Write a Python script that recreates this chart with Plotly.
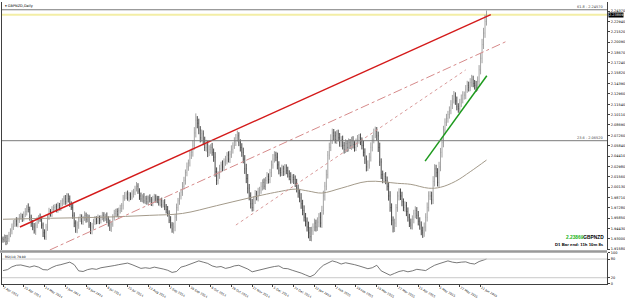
import plotly.graph_objects as go

# ---------------- data ----------------
date_labels = ["7 Apr 2014", "25 Apr 2014", "14 May 2014", "3 Jun 2014", "19 Jun 2014", "9 Jul 2014",
               "25 Jul 2014", "13 Aug 2014", "1 Sep 2014", "19 Sep 2014", "9 Oct 2014", "29 Oct 2014",
               "17 Nov 2014", "5 Dec 2014", "24 Dec 2014", "13 Jan 2015", "2 Feb 2015", "19 Feb 2015",
               "10 Mar 2015", "27 Mar 2015", "15 Apr 2015", "5 May 2015", "22 May 2015", "11 Jun 2015"]
bars_per_label = 14

first_open_pips = 19300
close_pips = [
    19288, 19315, 19262, 19302, 19355, 19409, 19462, 19516, 19542, 19502,
    19556, 19596, 19609, 19582, 19636, 19676, 19730, 19703, 19596,
    19516, 19462, 19409, 19489, 19556, 19596, 19569, 19489, 19382, 19329,
    19462, 19596, 19676, 19649, 19703, 19730, 19743, 19703, 19756,
    19730, 19783, 19823, 19850, 19810, 19890, 19850, 19783, 19730, 19623,
    19516, 19422, 19489, 19569, 19596, 19542, 19582, 19623, 19569, 19596,
    19489, 19409, 19462, 19542, 19569, 19542, 19582, 19556, 19596,
    19623, 19582, 19609, 19569, 19516, 19449, 19502, 19596, 19649, 19676,
    19636, 19690, 19716, 19756, 19863, 19890, 19917, 19863, 19903,
    19877, 19917, 19943, 19997, 20024, 19957, 19890, 19850, 19877, 19823,
    19850, 19810, 19863, 19837, 19796, 19837, 19877, 19850, 19837,
    19796, 19823, 19770, 19796, 19743, 19703, 19649, 19556, 19489, 19435,
    19462, 19596, 19730, 19823, 19890, 19943, 20024, 20104, 20211, 20291,
    20345, 20452, 20492, 20585, 20759, 20933, 20893, 20799, 20692,
    20746, 20652, 20559, 20598, 20492, 20532, 20559, 20492, 20425, 20224,
    20104, 20184, 20264, 20318, 20291, 20358, 20385, 20452, 20398,
    20465, 20532, 20585, 20639, 20692, 20719, 20625, 20559, 20492, 20398,
    20264, 20131, 19997, 19890, 19783, 19730, 19837, 19917, 19877, 19943,
    19970, 20024, 20077, 20024, 20104, 20157, 20117, 20211, 20318,
    20398, 20452, 20425, 20318, 20238, 20211, 20264, 20224, 20278, 20238,
    20198, 20157, 20117, 20144, 20117, 20064, 19997, 19930, 19863,
    19783, 19690, 19596, 19542, 19462, 19382, 19329, 19409, 19462, 19516,
    19462, 19529, 19596, 19516, 19690, 19890, 20024, 20184, 20452,
    20559, 20666, 20759, 20719, 20666, 20746, 20692, 20625, 20666, 20585,
    20532, 20612, 20559, 20625, 20585, 20652, 20598, 20559, 20625, 20666,
    20692, 20639, 20585, 20492, 20398, 20291, 20318, 20425, 20559,
    20666, 20746, 20786, 20719, 20559, 20358, 20184, 20131, 20157, 20104,
    20024, 19890, 19730, 19556, 19449, 19516, 19730, 19890, 19943,
    19890, 19810, 19730, 19756, 19676, 19596, 19516, 19489, 19569, 19649,
    19690, 19623, 19542, 19489, 19409, 19382, 19462, 19596, 19730, 19890,
    19890, 19837, 20091, 20264, 20211, 20077, 20291, 20492, 20625,
    20799, 20906, 20960, 21013, 21067, 21147, 21227, 21267, 21200, 21120,
    21093, 21173, 21227, 21280, 21280, 21361, 21414, 21388, 21454,
    21494, 21441, 21414, 21388, 21468, 21628, 21788, 21976, 22136, 22297, 22387,
]
up_wick_pips = [
    30, 45, 38, 52, 40, 35, 48, 42, 30, 55,
    38, 44, 50, 36, 41, 47, 33, 58, 40,
    36, 42, 55, 38, 46, 30, 52, 40, 35, 48,
    44, 37, 51, 33, 45, 39, 34, 42, 48,
    38, 50, 35, 44, 53, 40, 36, 47, 32, 58,
    42, 39, 50, 35, 46, 41, 33, 55, 38, 44,
    36, 42, 57, 34, 45, 40, 52, 38, 31,
    47, 43, 36, 54, 40, 48, 35, 42, 50, 37,
    44, 39, 53, 36, 41, 55, 33, 48, 40,
    37, 51, 45, 34, 58, 42, 39, 47, 36, 52,
    40, 45, 33, 49, 38, 56, 42, 35, 41,
    53, 37, 44, 39, 50, 36, 48, 43, 55, 40,
    62, 48, 55, 40, 52, 45, 58, 50, 44, 60,
    47, 66, 50, 72, 80, 95, 58, 62, 54,
    60, 48, 55, 66, 50, 58, 45, 62, 52, 70,
    60, 48, 56, 44, 62, 50, 58, 42, 54,
    48, 56, 45, 60, 52, 72, 50, 46, 58, 64,
    55, 70, 62, 58, 50, 66, 48, 55, 44, 60,
    46, 58, 42, 55, 48, 62, 45, 52, 60,
    70, 56, 48, 62, 50, 46, 58, 44, 52, 48,
    55, 46, 60, 44, 48, 56, 62, 50, 58,
    66, 54, 70, 60, 52, 74, 80, 56, 50, 62,
    48, 66, 58, 70, 64, 72, 60, 68, 58,
    66, 74, 60, 54, 62, 50, 58, 66, 48, 56,
    52, 60, 46, 58, 50, 54, 62, 48, 56, 64,
    52, 60, 58, 66, 54, 50, 62, 58, 70,
    64, 72, 60, 54, 58, 66, 50, 56, 48, 62,
    54, 60, 66, 58, 52, 60, 48, 62, 54,
    50, 58, 46, 60, 52, 56, 48, 62, 54, 50,
    58, 46, 60, 54, 50, 58, 62, 56, 70, 64,
    66, 60, 72, 64, 56, 62, 70, 60, 66,
    58, 54, 62, 50, 58, 64, 56, 70, 52, 60,
    48, 56, 62, 54, 50, 58, 64, 52, 60,
    66, 54, 48, 62, 70, 66, 74, 80, 72, 90, 60,
]
dn_wick_pips = [
    42, 36, 50, 38, 45, 33, 48, 40, 52, 35,
    44, 38, 31, 50, 42, 37, 55, 40, 46,
    52, 44, 38, 56, 42, 48, 35, 50, 58, 40,
    46, 53, 37, 44, 49, 42, 51, 39, 45,
    40, 47, 36, 55, 42, 38, 50, 44, 33, 48,
    56, 40, 46, 52, 38, 44, 50, 36, 47, 41,
    39, 45, 48, 36, 50, 42, 38, 55, 44,
    40, 47, 35, 52, 48, 41, 54, 37, 45, 43,
    38, 50, 42, 47, 53, 40, 46, 38, 52,
    44, 36, 49, 41, 45, 38, 54, 42, 48, 36,
    46, 40, 51, 37, 44, 48, 35, 52, 46,
    39, 50, 43, 37, 48, 55, 44, 40, 46, 52,
    64, 58, 50, 46, 55, 48, 52, 44, 58, 50,
    54, 48, 52, 60, 56, 62, 70, 58, 64,
    55, 62, 50, 58, 66, 52, 60, 48, 64, 70,
    62, 54, 58, 50, 62, 56, 52, 60, 46,
    54, 50, 58, 46, 60, 52, 48, 56, 62, 58,
    70, 64, 72, 60, 66, 54, 50, 58, 48, 62,
    54, 50, 58, 44, 52, 48, 56, 50, 60,
    52, 48, 56, 62, 50, 54, 46, 58, 52, 48,
    54, 50, 58, 46, 62, 50, 58, 64, 60,
    70, 66, 58, 72, 62, 76, 60, 64, 56, 58,
    62, 54, 70, 60, 66, 58, 64, 56, 54,
    62, 50, 58, 64, 52, 60, 48, 56, 62, 54,
    58, 50, 62, 56, 48, 60, 54, 58, 50, 62,
    56, 48, 54, 58, 66, 62, 56, 52, 60,
    54, 50, 58, 66, 62, 54, 60, 66, 58, 52,
    60, 64, 58, 70, 62, 56, 54, 58, 62,
    56, 62, 50, 58, 64, 60, 54, 58, 62, 56,
    66, 52, 58, 64, 60, 70, 56, 62, 58, 54,
    56, 64, 58, 70, 62, 56, 66, 60, 72,
    64, 58, 52, 60, 56, 50, 58, 62, 54, 50,
    56, 52, 58, 60, 62, 56, 50, 58, 54,
    60, 52, 58, 64, 50, 56, 62, 68, 60, 66, 58,
]

ma_bar = [0, 32, 65, 99, 121, 144, 166, 188, 197, 206, 215, 228, 246, 266, 275, 287, 295, 305, 315, 326]
ma_values = [1.9569, 1.9583, 1.9596, 1.9623, 1.9649, 1.9756, 1.9863, 1.9957, 1.9984, 1.9957,
             1.9930, 1.9997, 2.0091, 2.0064, 2.0050, 1.9997, 2.0010, 2.0091, 2.0224, 2.0385]

rsi_values = [
    43, 46, 55, 60, 61, 57, 54, 58, 54, 46,
    45, 53, 59, 62, 66, 70, 62, 42, 40, 46,
    49, 47, 52, 54, 55, 59, 62, 64, 67,
    62, 57, 50, 52, 50, 54, 52, 48, 44, 37,
    40, 54, 58, 64, 68, 74, 70, 66, 58,
    54, 56, 50, 53, 58, 60, 55, 48, 39, 43,
    47, 49, 53, 56, 58, 50, 49, 44, 40,
    35, 29, 23, 30, 47, 60, 67, 74, 70, 64,
    68, 66, 62, 58, 54, 49, 52, 60, 42,
    36, 28, 34, 40, 43, 39, 42, 47, 45, 43,
    52, 60, 65, 70, 74, 70, 68, 70, 71,
    66, 64, 72, 78, 80,
]
rsi_bar = list(range(0, 325, 3)) + [326]
rsi_levels = [20, 80]

# trend lines: (bar, price) anchors
red_line_bar = [11.4, 328.9]
red_line_price = [1.9462, 2.2390]
dash_line_bar = [31.5, 340.3]
dash_line_price = [1.9145, 2.2029]
dot_line_bar = [157, 312]
dot_line_price = [1.9489, 2.1628]
green_line_bar = [284.6, 326.2]
green_line_price = [2.0371, 2.1548]

fib_levels = [2.24570, 2.06520]
fib_texts = ["61.8 - 2.24570", "23.6 - 2.06520"]
current_price = 2.23869

price_ticks = [2.2437, 2.2294, 2.2152, 2.2009, 2.1867, 2.1724, 2.1582, 2.1439, 2.1296, 2.1154,
               2.1011, 2.0869, 2.0726, 2.0584, 2.0441, 2.0298, 2.0156, 2.0013, 1.9871, 1.9728,
               1.9585, 1.9443, 1.9300, 1.9158]
rsi_ticks = [0, 20, 80, 100]

# ---------------- build ----------------
n = len(close_pips)
assert len(up_wick_pips) == n and len(dn_wick_pips) == n, (n, len(up_wick_pips), len(dn_wick_pips))
assert len(rsi_values) == len(rsi_bar)
close = [c / 10000 for c in close_pips]
opn = [first_open_pips / 10000] + close[:-1]
high = [max(o, c) + u / 10000 for o, c, u in zip(opn, close, up_wick_pips)]
low = [min(o, c) - d / 10000 for o, c, d in zip(opn, close, dn_wick_pips)]
bars = list(range(n))

W, H = 625, 299
X0, X1 = 2, 610          # plot area in px
XR = [-0.7, 407.3]
def px_x(p): return p / W
def px_y(p): return 1 - p / H

main_dom = [px_y(256), 1.0]
rsi_dom = [px_y(290.7), px_y(258.6)]
yr_main = [1.9141, 2.2564]

FONT = "DejaVu Sans"
fig = go.Figure()
fig.add_trace(go.Ohlc(x=bars, open=opn, high=high, low=low, close=close,
                      increasing=dict(line=dict(color="#8c8c8c", width=0.8)),
                      decreasing=dict(line=dict(color="#1a1a1a", width=0.8)),
                      tickwidth=0.15, xaxis="x", yaxis="y", hoverinfo="skip", showlegend=False))
fig.add_trace(go.Scatter(x=ma_bar, y=ma_values, mode="lines", line=dict(color="#a39a8a", width=1, shape="spline"),
                         xaxis="x", yaxis="y", hoverinfo="skip", showlegend=False))
fig.add_trace(go.Scatter(x=red_line_bar, y=red_line_price, mode="lines", line=dict(color="#d41a1a", width=1.4),
                         xaxis="x", yaxis="y", hoverinfo="skip", showlegend=False))
fig.add_trace(go.Scatter(x=dash_line_bar, y=dash_line_price, mode="lines",
                         line=dict(color="#d68a8a", width=1, dash="dashdot"),
                         xaxis="x", yaxis="y", hoverinfo="skip", showlegend=False))
fig.add_trace(go.Scatter(x=dot_line_bar, y=dot_line_price, mode="lines",
                         line=dict(color="#d89a9a", width=1, dash="dot"),
                         xaxis="x", yaxis="y", hoverinfo="skip", showlegend=False))
fig.add_trace(go.Scatter(x=green_line_bar, y=green_line_price, mode="lines", line=dict(color="#1d9a1d", width=1.5),
                         xaxis="x", yaxis="y", hoverinfo="skip", showlegend=False))
fig.add_trace(go.Scatter(x=rsi_bar, y=rsi_values, mode="lines", line=dict(color="#555555", width=0.8),
                         xaxis="x2", yaxis="y2", hoverinfo="skip", showlegend=False))

shapes = []
for lv in rsi_levels:
    shapes.append(dict(type="line", xref="x2", yref="y2", x0=XR[0], x1=XR[1], y0=lv, y1=lv,
                       line=dict(color="#c8c8c8", width=1)))
for lv in fib_levels:
    shapes.append(dict(type="line", xref="x", yref="y", x0=XR[0], x1=XR[1], y0=lv, y1=lv,
                       line=dict(color="#7a7a7a", width=1)))
shapes.append(dict(type="line", xref="x", yref="y", x0=XR[0], x1=XR[1], y0=current_price, y1=current_price,
                   line=dict(color="#f3eea6", width=2), layer="below"))
shapes.append(dict(type="rect", xref="paper", yref="paper", x0=0, x1=px_x(X1), y0=px_y(258.6), y1=px_y(256),
                   fillcolor="#9a9a9a", line=dict(width=0)))

ann = []
for lv, t in zip(fib_levels, fib_texts):
    ann.append(dict(xref="paper", yref="y", x=px_x(608), y=lv, text=t, showarrow=False,
                    xanchor="right", yanchor="bottom", yshift=-1, font=dict(family=FONT, size=3.5, color="#404040")))
ann.append(dict(xref="paper", yref="y", x=px_x(X1 + 1), y=current_price, text="2.23869", showarrow=False,
                xanchor="left", yanchor="middle", bgcolor="#000000", borderpad=0,
                font=dict(family=FONT, size=3.5, color="#ffffff")))
ann.append(dict(xref="paper", yref="paper", x=px_x(3), y=1.0, text="\u25be GBPNZD,Daily", showarrow=False,
                xanchor="left", yanchor="top", font=dict(family=FONT, size=3.5, color="#000000")))
ann.append(dict(xref="paper", yref="paper", x=px_x(609), y=px_y(243), showarrow=False,
                text="<b><span style='color:#17b317'>2.23869</span>GBPNZD</b>",
                xanchor="right", yanchor="middle", font=dict(family="Liberation Sans", size=4.8, color="#000000")))
ann.append(dict(xref="paper", yref="paper", x=px_x(609), y=px_y(250.5), showarrow=False,
                text="<b>D1 Bar end: 11h 10m 8s</b>",
                xanchor="right", yanchor="middle", font=dict(family="Liberation Sans", size=4.3, color="#000000")))
ann.append(dict(xref="paper", yref="paper", x=px_x(3), y=px_y(259), text="RSI(14) 79.80", showarrow=False,
                xanchor="left", yanchor="top", font=dict(family=FONT, size=3, color="#000000")))

axis_common = dict(showgrid=False, zeroline=False)
fig.update_layout(
    width=W, height=H, margin=dict(l=0, r=0, t=0, b=0),
    paper_bgcolor="#ffffff", plot_bgcolor="#ffffff", showlegend=False,
    xaxis=dict(domain=[px_x(X0), px_x(X1)], range=XR, showticklabels=False, ticks="",
               rangeslider=dict(visible=False), anchor="y", **axis_common),
    yaxis=dict(domain=main_dom, range=yr_main, side="right", anchor="x",
               tickvals=price_ticks, ticktext=[f"{v:.5f}" for v in price_ticks],
               tickfont=dict(family=FONT, size=3.5, color="#000000"), ticks="outside", ticklen=2,
               tickcolor="#404040", showline=True, linecolor="#404040", linewidth=1, mirror=True,
               **axis_common),
    xaxis2=dict(domain=[px_x(X0), px_x(X1)], range=XR, anchor="y2",
                tickvals=[k * bars_per_label for k in range(len(date_labels))], ticktext=date_labels,
                ticklabelposition="outside right", tickfont=dict(family=FONT, size=3, color="#000000"),
                ticks="outside", ticklen=2, tickcolor="#404040", showline=True, linecolor="#404040",
                linewidth=1, rangeslider=dict(visible=False), **axis_common),
    yaxis2=dict(domain=rsi_dom, range=[0, 100], side="right", anchor="x2",
                tickvals=rsi_ticks, ticktext=[str(v) for v in rsi_ticks],
                tickfont=dict(family=FONT, size=3.5, color="#000000"), ticks="outside", ticklen=2,
                tickcolor="#404040", showline=True, linecolor="#404040", linewidth=1, mirror=True,
                **axis_common),
    shapes=shapes, annotations=ann,
)
fig.write_html("out.html")
